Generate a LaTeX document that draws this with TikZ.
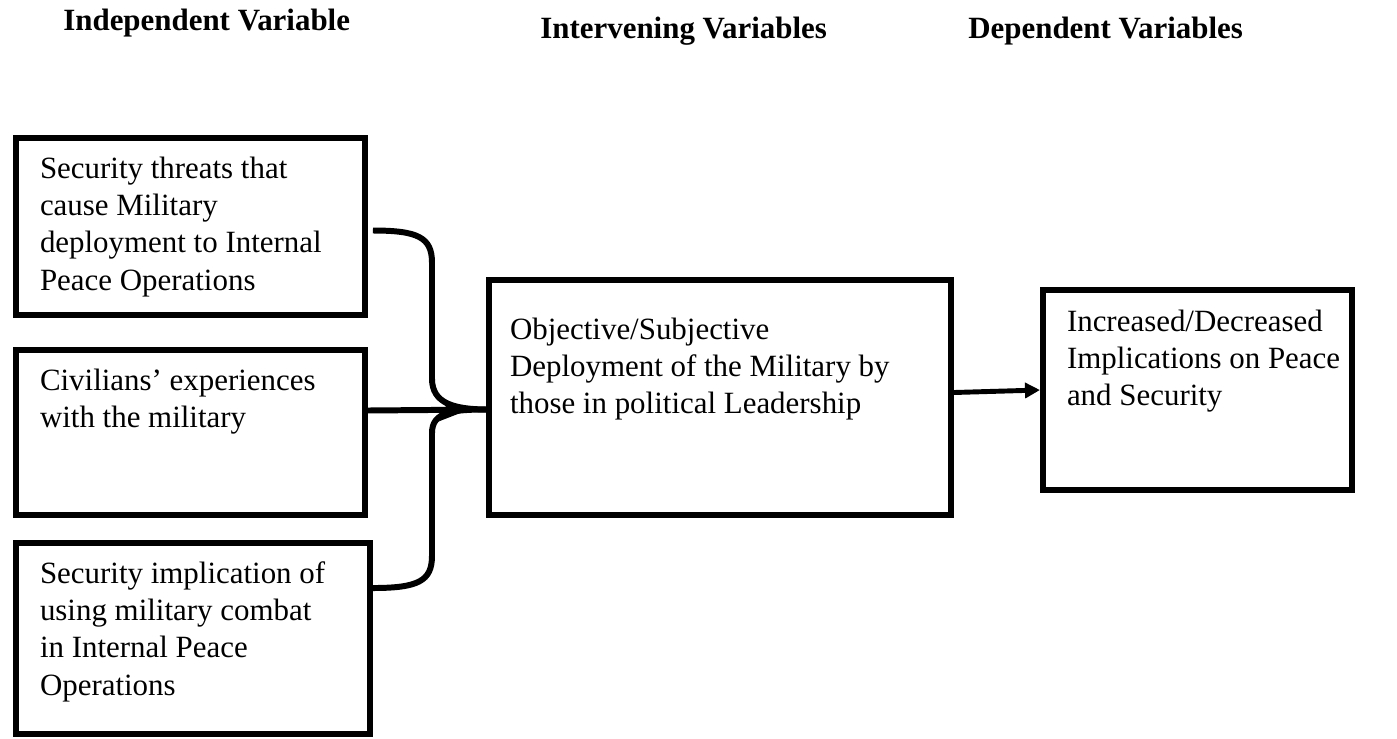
\documentclass[tikz,border=0pt]{standalone}
\usepackage{fontspec}
\setmainfont{Liberation Serif}
\usetikzlibrary{arrows.meta,calc}
\newlength{\px}\setlength{\px}{0.02cm}
% box text: height, width, left pad, first baseline, text
\newcommand{\boxtext}[5]{\parbox[c][#1\px][t]{#2\px}{\raggedright\leftskip=#3\px\relax
  \vspace*{\dimexpr#4\px-0.7\baselineskip\relax}\strut#5}}

\begin{document}
\begin{tikzpicture}[
    x=0.02cm, y=-0.02cm,
    every node/.style={font=\fontsize{17.6}{21.3}\selectfont},
    varbox/.style={draw, line width=3.4pt, inner sep=0pt},
    head/.style={anchor=base west, inner sep=0pt, font=\fontsize{17.6}{21.3}\selectfont\bfseries},
    conn/.style={line width=3.4pt},
    arr/.style={-{Stealth[length=0.6cm, width=0.45cm]}, line width=3.4pt},
    arrs/.style={-{Triangle[length=0.3cm, width=0.3cm]}, line width=2.8pt}
]
    \useasboundingbox (0,0) rectangle (1397,738);

    % Headings
    \node[head] (indep) at (63,30) {Independent Variable};
    \node[head] (interv) at (540,38) {Intervening Variables};
    \node[head] (dep) at (968,38) {Dependent Variables};

    % Independent variables
    \node[varbox] (threats) at (190.5,226.5) {\boxtext{177}{349}{24}{40}{Security threats that\\cause Military\\deployment to Internal\\Peace Operations}};
    \node[varbox] (civil) at (190.5,432.5) {\boxtext{165}{349}{24}{40}{Civilians’ experiences\\with the military}};
    \node[varbox] (combat) at (193,638.5) {\boxtext{191}{354}{24}{40}{Security implication of\\using military combat\\in Internal Peace\\Operations}};

    % Intervening and dependent
    \node[varbox] (deploy) at (720,397.5) {\boxtext{235}{462}{21}{59}{Objective/Subjective\\Deployment of the Military by\\those in political Leadership}};
    \node[varbox] (impl) at (1197.5,390) {\boxtext{200}{309}{24}{41}{Increased/Decreased\\Implications on Peace\\and Security}};

    % Connections
    \coordinate (tip) at ($(deploy.west)+(3,12)$);
    \draw[conn] ($(threats.east)+(5,4)$) .. controls +(45,0) and +(0,-25) .. ++(59,32) -- ++(0,116) .. controls +(0,25) and +(-35,0) .. (tip);
    \draw[conn] ($(combat.north east)+(0,48)$) .. controls +(45,0) and +(0,25) .. ++(59,-32) -- ++(0,-123) .. controls +(0,-22) and +(-35,0) .. (tip);
    \draw[arr, shorten >=20\px] ($(civil.east)+(0,-22)$) -- (tip);
    \draw[arrs] ($(deploy.east)+(0,-5)$) -- (impl.west);
\end{tikzpicture}
\end{document}
